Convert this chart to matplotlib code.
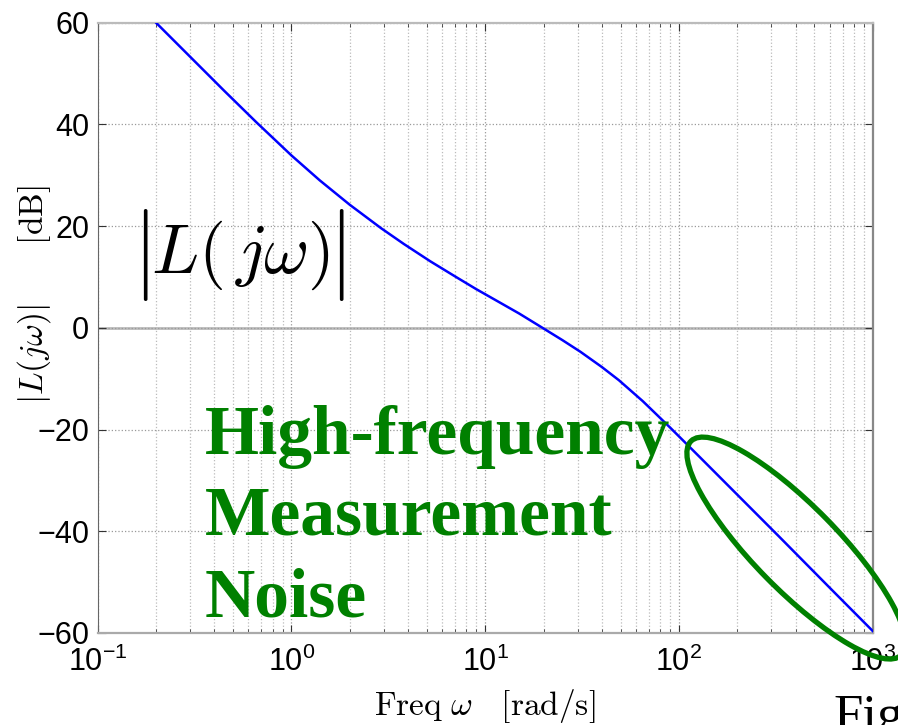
import numpy as np
import matplotlib.pyplot as plt
from matplotlib.patches import Ellipse
from matplotlib.transforms import ScaledTranslation
from matplotlib.ticker import LogLocator, NullFormatter

# open-loop gain |L(jw)| read at a set of frequencies
omega = [0.2, 0.3, 0.45, 0.66, 1.0, 1.4, 2.0, 2.9, 3.8, 5.2, 7.0, 9.0, 12, 15,
         19, 25, 31, 40, 49, 65, 90, 128, 200, 330, 600, 1000]
mag_db = [60, 53.3, 46.6, 40.4, 33.9, 29.0, 24.2, 19.6, 16.5, 13.1, 10.1, 7.6,
          4.9, 2.8, 0.4, -2.4, -4.7, -7.7, -10.3, -14.4, -19.6, -25.4, -32.8,
          -41.1, -51.1, -59.6]

y_ticks = [-60, -40, -20, 0, 20, 40, 60]

# marked noise region (centre in data units, size in inches)
noise_center = (403, -43.3)
noise_size = (3.0, 0.84)
noise_angle = -45.5

green = '#008000'

plt.rcParams['font.family'] = 'Liberation Sans'
plt.rcParams['mathtext.fontset'] = 'custom'
plt.rcParams['mathtext.rm'] = 'Liberation Sans'
plt.rcParams['mathtext.it'] = 'Liberation Sans:italic'

fig = plt.figure(figsize=(8.98, 7.25), dpi=100)
ax = fig.add_axes([0.1088, 0.1269, 0.8630, 0.8418])

ax.semilogx(omega, mag_db, color='#0000ff', lw=1.8, zorder=3)
ax.set_xlim(0.1, 1000)
ax.set_ylim(-60, 60)
ax.set_yticks(y_ticks)
ax.xaxis.set_minor_locator(LogLocator(base=10, subs=np.arange(2, 10)))
ax.xaxis.set_minor_formatter(NullFormatter())

ax.grid(which='major', axis='both', ls=':', color='#999999', lw=0.9)
ax.grid(which='minor', axis='x', ls=':', color='#bbbbbb', lw=0.9)
ax.axhline(0, color='#bbbbbb', lw=2, zorder=1)

ax.tick_params(which='both', direction='in', top=True, right=True,
               labelsize=22, colors='#333333', labelcolor='black')
ax.tick_params(which='major', length=6, pad=6)
ax.tick_params(which='minor', length=3)
ax.tick_params(axis='x', which='major', pad=10)

ax.spines['left'].set_color('#666666')
ax.spines['bottom'].set_color('#aaaaaa')
ax.spines['bottom'].set_linewidth(1.6)
ax.spines['top'].set_color('#bbbbbb')
ax.spines['top'].set_linewidth(1.6)
ax.spines['right'].set_color('#888888')
ax.spines['right'].set_linewidth(1.6)

ax.set_xlabel(r'$\mathrm{Freq}\ \omega\quad[\mathrm{rad/s}]$', fontsize=24,
              math_fontfamily='cm')
ax.xaxis.set_label_coords(0.5, -0.088)
ax.set_ylabel(r'$|L(j\omega)|\qquad[\mathrm{dB}]$', fontsize=24,
              math_fontfamily='cm')
ax.yaxis.set_label_coords(-0.058, 0.554)

# large |L(jw)| label: the bars are drawn taller than the expression
ax.text(0.184, 0.619, r'$L(\,j\omega)$', transform=ax.transAxes,
        fontsize=50, math_fontfamily='cm', ha='center', va='center')
for bx in (0.0546, 0.3075):
    ax.text(bx, 0.619, r'$|$', transform=ax.transAxes, fontsize=66,
            math_fontfamily='cm', ha='center', va='center')

ax.text(0.138, 0.374, 'High-frequency\nMeasurement\nNoise',
        transform=ax.transAxes, fontsize=50, fontweight='bold',
        family='Liberation Serif', color=green, ha='left', va='top',
        linespacing=1.35, zorder=4)

ell = Ellipse((0, 0), noise_size[0], noise_size[1], angle=noise_angle,
              fill=False, ec=green, lw=3.8, clip_on=False, zorder=5,
              transform=fig.dpi_scale_trans
              + ScaledTranslation(*noise_center, ax.transData))
ax.add_patch(ell)

fig.text(833 / 898, -0.008, 'Fig', family='Liberation Serif', fontsize=38,
         ha='left', va='baseline')

fig.savefig('out.png', dpi=100)
